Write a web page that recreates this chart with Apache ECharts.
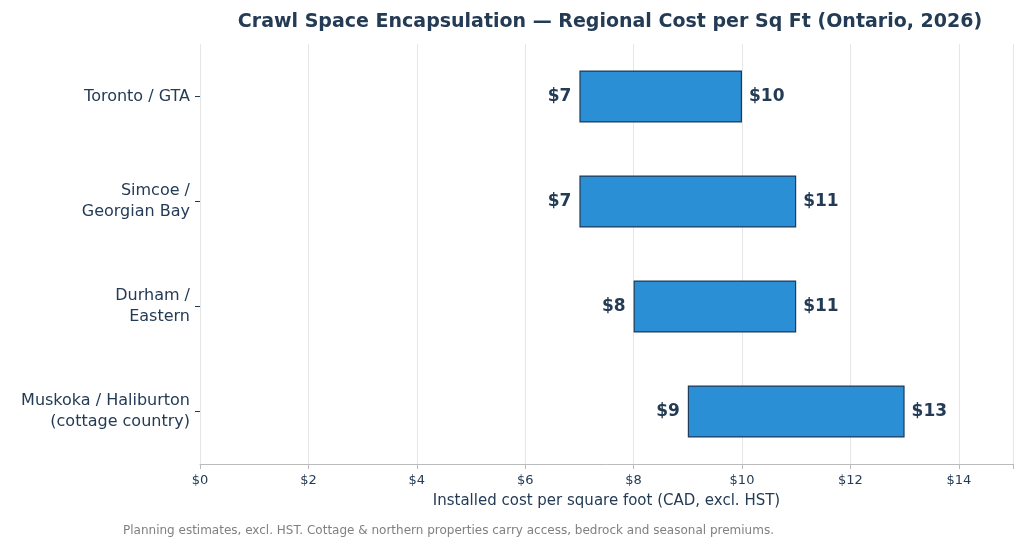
<!DOCTYPE html>
<html>
<head>
<meta charset="utf-8">
<title>Crawl Space Encapsulation</title>
<style>
  *{margin:0;padding:0;}
  body{background:#fff;}
  #chart{width:1024px;height:550px;}
</style>
</head>
<body>
<div id="chart"></div>
<script src="https://cdn.jsdelivr.net/npm/echarts@6/dist/echarts.min.js"></script>
<script>
var regions = ['Toronto / GTA', 'Simcoe /\nGeorgian Bay', 'Durham /\nEastern', 'Muskoka / Haliburton\n(cottage country)'];
var lowCost = [7, 7, 8, 9];
var highCost = [10, 11, 11, 13];
var xTicks = [0, 2, 4, 6, 8, 10, 12, 14];

var dark = '#243b55';
var spans = highCost.map(function (h, i) { return h - lowCost[i]; });

var chart = echarts.init(document.getElementById('chart'));
chart.setOption({
  animation: false,
  textStyle: { fontFamily: 'DejaVu Sans' },
  title: {
    text: 'Crawl Space Encapsulation \u2014 Regional Cost per Sq Ft (Ontario, 2026)',
    left: 605, textAlign: 'center', top: 8,
    textStyle: { fontSize: 19, fontWeight: 'bold', color: dark }
  },
  graphic: [{
    type: 'text', left: 123, top: 525,
    style: { text: 'Planning estimates, excl. HST. Cottage & northern properties carry access, bedrock and seasonal premiums.',
      fill: '#808080', fontSize: 12, fontFamily: 'DejaVu Sans' }
  }],
  grid: { left: 200, right: 11, top: 44, bottom: 86 },
  xAxis: {
    type: 'value', min: 0, max: 15, interval: 2,
    name: 'Installed cost per square foot (CAD, excl. HST)',
    nameLocation: 'middle', nameGap: 30,
    nameTextStyle: { fontSize: 15, color: dark },
    axisLine: { show: true, lineStyle: { color: '#bbbbbb' } },
    axisTick: { show: true, lineStyle: { color: '#bbbbbb' } },
    axisLabel: { fontSize: 13, color: dark, margin: 10,
      formatter: function (v) { return xTicks.indexOf(v) >= 0 ? '$' + v : ''; } },
    splitLine: { lineStyle: { color: '#e6e6e6' } }
  },
  yAxis: {
    type: 'category', data: regions, inverse: true,
    axisLine: { show: false },
    axisTick: { show: true, alignWithLabel: true, length: 5, lineStyle: { color: dark } },
    axisLabel: { fontSize: 16, color: dark, lineHeight: 21, margin: 10 }
  },
  series: [{
    type: 'bar', stack: 'r', data: lowCost, barWidth: 52,
    itemStyle: { color: 'transparent' },
    label: { show: true, position: 'insideRight', distance: 8, fontSize: 17,
      fontWeight: 'bold', color: dark, formatter: function (p) { return '$' + p.value; } }
  }, {
    type: 'bar', stack: 'r', data: spans, barWidth: 52,
    itemStyle: { color: '#2b8fd6', borderColor: '#1f3a5a', borderWidth: 1.2 },
    label: { show: true, position: 'right', distance: 7, fontSize: 17,
      fontWeight: 'bold', color: dark,
      formatter: function (p) { return '$' + highCost[p.dataIndex]; } }
  }]
});
</script>
</body>
</html>
